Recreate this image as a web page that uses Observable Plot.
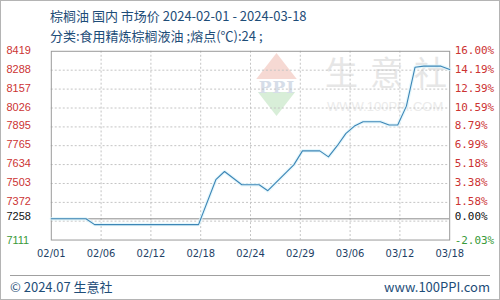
<!DOCTYPE html>
<html>
<head>
<meta charset="utf-8">
<script src="https://cdn.jsdelivr.net/npm/d3@7"></script>
<script src="https://cdn.jsdelivr.net/npm/@observablehq/plot@0.6"></script>
<style>
  html, body { margin: 0; padding: 0; background: #fff; }
  #wrap { position: relative; width: 500px; height: 300px; box-sizing: border-box; border: 1px solid #b4b4b4; overflow: hidden; font-family: "Noto Sans CJK SC", "Noto Sans", sans-serif; }
  .t { position: absolute; color: #1e4d78; white-space: nowrap; }
  #title { left: 49px; top: 5px; font-size: 13px; }
  #sub { left: 49px; top: 25px; font-size: 13px; }
  #foot-l { left: 9px; top: 276px; font-size: 13px; }
  #foot-r { right: 9px; top: 276px; font-size: 13px; }
  #sep { position: absolute; left: 9px; right: 9px; top: 274px; height: 0; border-top: 1px solid #a0a0a0; }
  #wm { position: absolute; left: 0; top: 0; width: 500px; height: 300px; }
  #diamond { position: absolute; left: 251px; top: 52px; width: 49px; height: 63px;
    clip-path: polygon(50% 0, 100% 50%, 50% 100%, 0 50%);
    background: linear-gradient(to bottom, #f6d9d3 0%, #f6d9d3 42%, #ffffff 42%, #ffffff 62%, #d8eed8 62%, #d8eed8 100%); }
  #ppi { position: absolute; left: 252px; top: 76px; width: 48px; text-align: center; font: bold 17px "DejaVu Serif", serif; color: #d6dde8; letter-spacing: 1px; }
  .wmc { position: absolute; top: 46px; font-size: 33px; line-height: 48px; color: #e6e6e6; white-space: nowrap; }
  #wmurl { position: absolute; left: 326px; top: 98px; font: 13px "Liberation Sans", sans-serif; color: #ebebeb; white-space: nowrap; }
  #chart { position: absolute; left: 0; top: 0; }
</style>
</head>
<body>
<div id="wrap">
  <div id="wm">
    <div id="diamond"></div>
    <div id="ppi">PPI</div>
    <div class="wmc" style="left:324px">生</div>
    <div class="wmc" style="left:369px">意</div>
    <div class="wmc" style="left:413px">社</div>
    <div id="wmurl">WWW.100PPI.COM</div>
  </div>
  <div id="chart"></div>
  <div class="t" id="title">棕榈油 国内 市场价 2024-02-01 - 2024-03-18</div>
  <div class="t" id="sub">分类:食用精炼棕榈液油 ;熔点(℃):24 ;</div>
  <div id="sep"></div>
  <div class="t" id="foot-l">© 2024.07 生意社</div>
  <div class="t" id="foot-r">www.100PPI.com</div>
</div>
<script>
// ---- data ----
const dates = ["2024-02-01","2024-02-05","2024-02-06","2024-02-18","2024-02-20","2024-02-21","2024-02-23","2024-02-25","2024-02-26","2024-02-29","2024-03-01","2024-03-03","2024-03-04","2024-03-05","2024-03-06","2024-03-07","2024-03-08","2024-03-10","2024-03-11","2024-03-12","2024-03-13","2024-03-14","2024-03-15","2024-03-17","2024-03-18"];
const prices = [7258,7258,7218,7218,7529,7586,7494,7494,7453,7632,7729,7729,7687,7763,7848,7901,7931,7931,7908,7908,8039,8309,8316,8316,8293];

const baseValue = 7258;
const yMin = 7111, yMax = 8419;
const leftRedTicks = [7372,7503,7634,7765,7895,8026,8157,8288,8419];
const rightRedLabels = ["1.58%","3.38%","5.18%","6.99%","8.79%","10.59%","12.39%","14.19%","16.00%"];
const yGrid = [7242,7372,7503,7634,7765,7895,8026,8157,8288];
const xTickLabels = ["02/01","02/06","02/12","02/18","02/24","02/29","03/06","03/12","03/18"];
const xStart = "2024-02-01", xEnd = "2024-03-18";

// ---- build ----
const data = dates.map((d, i) => ({date: new Date(d), price: prices[i]}));
const t0 = new Date(xStart), t1 = new Date(xEnd);
const step = (t1 - t0) / (xTickLabels.length - 1);
const xTicks = xTickLabels.map((label, k) => ({label, date: new Date(+t0 + k * step)}));

const red = "#cc3333", green = "#3a9a3a";
const leftFont = {fontFamily: "Liberation Sans, Arial, sans-serif", fontSize: 11};
const rightFont = {fontFamily: "DejaVu Sans Mono, monospace", fontSize: 11};

const chart = Plot.plot({
  width: 500,
  height: 300,
  marginLeft: 50,
  marginRight: 50,
  marginTop: 50,
  marginBottom: 60.5,
  style: {background: "transparent", overflow: "visible"},
  x: {type: "utc", domain: [t0, t1], axis: null},
  y: {domain: [yMin, yMax], axis: null},
  marks: [
    Plot.ruleY(yGrid, {stroke: "#c4c4c4", strokeDasharray: "2,2"}),
    Plot.ruleX(xTicks.slice(1, -1), {x: "date", stroke: "#c4c4c4", strokeDasharray: "2,2"}),
    Plot.ruleY([baseValue], {stroke: "#8a8a8a", strokeWidth: 1}),
    Plot.frame({stroke: "#9a9a9a"}),
    Plot.line(data, {x: "date", y: "price", stroke: "#dcf3fb", strokeWidth: 3.5, strokeOpacity: 0.7}),
    Plot.line(data, {x: "date", y: "price", stroke: "#3d86b6", strokeWidth: 1.1}),
    // left labels
    Plot.text(leftRedTicks, {y: d => d, text: d => String(d), frameAnchor: "left", dx: -45, dy: -1, textAnchor: "start", fill: red, ...leftFont}),
    Plot.text([baseValue], {y: d => d, text: d => String(d), frameAnchor: "left", dx: -45, dy: -2, textAnchor: "start", fill: "#111", ...leftFont}),
    Plot.text([yMin], {y: d => d, text: d => String(d), frameAnchor: "left", dx: -45, dy: 0, textAnchor: "start", fill: green, ...leftFont}),
    // right labels
    Plot.text(leftRedTicks, {y: d => d, text: (d, i) => rightRedLabels[i], frameAnchor: "right", dx: 5, dy: -1, textAnchor: "start", fill: red, ...rightFont}),
    Plot.text([baseValue], {y: d => d, text: d => "0.00%", frameAnchor: "right", dx: 5, dy: -2, textAnchor: "start", fill: "#111", ...rightFont}),
    Plot.text([yMin], {y: d => d, text: d => (((yMin - baseValue) / baseValue) * 100).toFixed(2) + "%", frameAnchor: "right", dx: 5, dy: 0, textAnchor: "start", fill: green, ...rightFont}),
    // x labels
    Plot.text(xTicks, {x: "date", text: "label", frameAnchor: "bottom", dy: 17, fill: "#1e3f66", fontFamily: "DejaVu Sans, sans-serif", fontSize: 10})
  ]
});
document.getElementById("chart").appendChild(chart);
</script>
</body>
</html>
